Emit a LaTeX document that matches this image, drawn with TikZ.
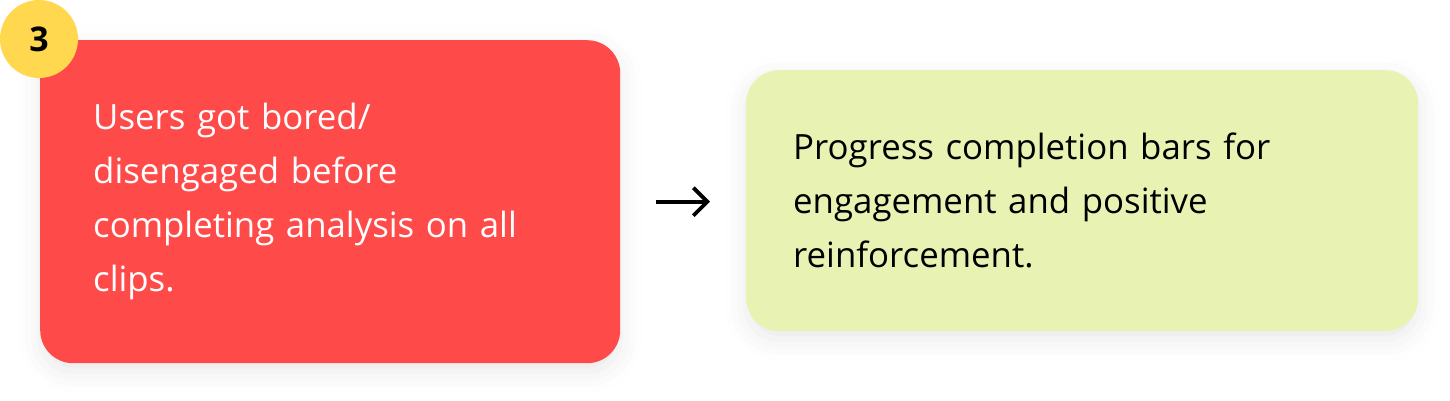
\documentclass[tikz,border=0pt]{standalone}
\usepackage{fontspec}
\setmainfont{Open Sans}
\usetikzlibrary{arrows.meta,positioning,shadows.blur}
\definecolor{cardred}{RGB}{255,74,74}
\definecolor{cardgreen}{RGB}{232,242,178}
\definecolor{badgeyellow}{RGB}{255,216,80}

\begin{document}
\begin{tikzpicture}[x=1pt,y=-1pt,
  card/.style={rectangle, rounded corners=33pt, anchor=north west, align=left,
    blur shadow={shadow xshift=0pt, shadow yshift=-8pt, shadow blur radius=22pt, shadow opacity=9},
    font=\fontsize{34.8}{54}\selectfont},
  badge/.style={circle, fill=badgeyellow, minimum size=78pt, inner sep=0pt,
    font=\fontsize{34}{34}\selectfont\bfseries},
  flow/.style={-{Straight Barb[length=14pt,width=28pt]}, line width=3.8pt}]
\useasboundingbox (0,0) rectangle (1450,400);
% problem card
\node[card, fill=cardred, text=white, minimum width=580pt, minimum height=323pt,
  inner xsep=53pt, text width=474pt] (problem) at (40,40)
  {Users got bored/\\disengaged before\\completing analysis on all\\clips.};
% step number
\node[badge] (step3) at (39,39) {3};
% solution card
\node[card, fill=cardgreen, text=black, minimum width=672pt, minimum height=261pt,
  inner xsep=47pt, text width=578pt] (solution) at (746,70)
  {Progress completion bars for\\engagement and positive\\reinforcement.};
% problem -> solution
\draw[flow, shorten <=36pt, shorten >=36pt] (problem.east) -- (solution.west |- problem.east);
\end{tikzpicture}
\end{document}
